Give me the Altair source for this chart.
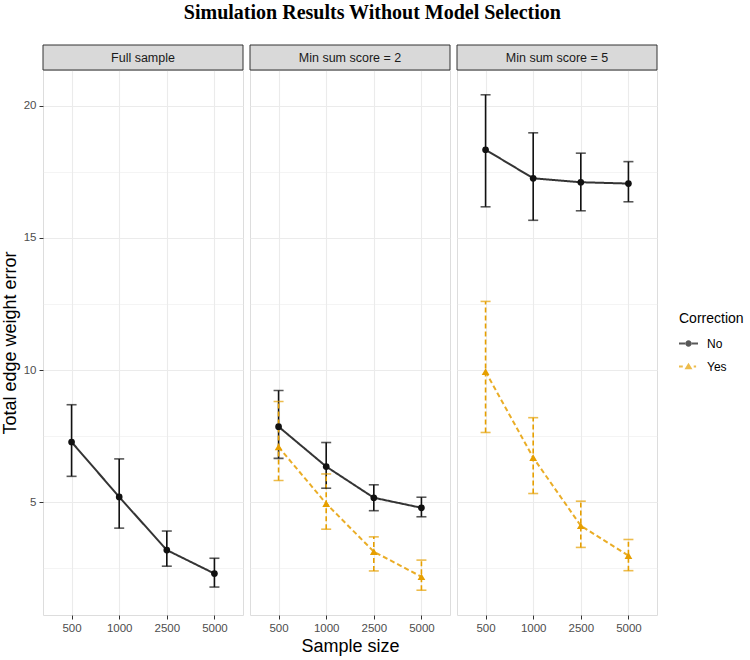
import altair as alt
import pandas as pd

panels = ["Full sample", "Min sum score = 2", "Min sum score = 5"]
sizes = ["500", "1000", "2500", "5000"]
corrections = ["No", "Yes"]

fs_no_mean = [7.28, 5.20, 3.19, 2.30]
fs_no_lo = [5.98, 4.02, 2.58, 1.79]
fs_no_hi = [8.69, 6.64, 3.91, 2.88]

m2_no_mean = [7.86, 6.35, 5.17, 4.79]
m2_no_lo = [6.66, 5.53, 4.68, 4.45]
m2_no_hi = [9.23, 7.26, 5.66, 5.19]
m2_yes_mean = [7.09, 4.95, 3.13, 2.18]
m2_yes_lo = [5.82, 3.98, 2.40, 1.67]
m2_yes_hi = [8.81, 6.07, 3.69, 2.81]

m5_no_mean = [18.34, 17.26, 17.11, 17.06]
m5_no_lo = [16.18, 15.67, 16.03, 16.37]
m5_no_hi = [20.42, 18.98, 18.21, 17.89]
m5_yes_mean = [9.94, 6.69, 4.11, 2.98]
m5_yes_lo = [7.64, 5.33, 3.29, 2.41]
m5_yes_hi = [12.60, 8.20, 5.04, 3.59]

series = [
    (panels[0], "No", fs_no_mean, fs_no_lo, fs_no_hi),
    (panels[1], "No", m2_no_mean, m2_no_lo, m2_no_hi),
    (panels[1], "Yes", m2_yes_mean, m2_yes_lo, m2_yes_hi),
    (panels[2], "No", m5_no_mean, m5_no_lo, m5_no_hi),
    (panels[2], "Yes", m5_yes_mean, m5_yes_lo, m5_yes_hi),
]
rows = []
for panel, corr, mean, lo, hi in series:
    for n, m, l, h in zip(sizes, mean, lo, hi):
        rows.append({"panel": panel, "correction": corr, "n": n, "mean": m, "lo": l, "hi": h})
df = pd.DataFrame(rows)

ymin, ymax = df["lo"].min(), df["hi"].max()
pad = (ymax - ymin) * 0.05
ydomain = [ymin - pad, ymax + pad]

W, H, STRIP = 200, 545, 25
GRID = "#EBEBEB"
DARK = "#333333"
FONT = "Liberation Sans"

# legend glyphs: line segment + marker, all filled areas (unit = half symbol width)
no_path = ("M-1,-0.1H-0.3V0.1H-1Z M0.3,-0.1H1V0.1H0.3Z "
           "M-0.33,0A0.33,0.33 0 1,0 0.33,0A0.33,0.33 0 1,0 -0.33,0Z")
yes_path = ("M-1,-0.1H-0.6V0.1H-1Z M0.55,-0.1H0.8V0.1H0.55Z "
            "M0,-0.4L0.42,0.3L-0.42,0.3Z")


def legend_obj():
    return alt.Legend(
        title="Correction", orient="none", legendX=636, legendY=242,
        titleFont=FONT, titleFontSize=14, titleFontWeight="normal", titleColor="#000000",
        labelFont=FONT, labelFontSize=12, labelColor="#000000", labelOffset=9,
        symbolSize=361, rowPadding=7, titlePadding=8, symbolStrokeWidth=0,
    )


color = alt.Color("correction:N", scale=alt.Scale(domain=corrections, range=["#111111", "#E69F00"]),
                  legend=legend_obj())
dash = alt.StrokeDash("correction:N", scale=alt.Scale(domain=corrections, range=[[1, 0], [5, 3]]), legend=None)
legend_shape = alt.Shape("correction:N", scale=alt.Scale(domain=corrections, range=[no_path, yes_path]),
                         legend=legend_obj())

yscale = alt.Scale(domain=ydomain, nice=False, zero=False)
xscale = alt.Scale(type="point", domain=sizes, padding=0.6)

minor_test = "datum.value % 5 === 0"
marker = {"No": "circle", "Yes": "triangle-up"}


def make_panel(i):
    name = panels[i]
    d = df[df["panel"] == name]
    first = i == 0
    yaxis = alt.Axis(
        values=[2.5, 5, 7.5, 10, 12.5, 15, 17.5, 20],
        grid=True, gridColor=GRID,
        gridWidth={"condition": {"test": minor_test, "value": 1.1}, "value": 0.55},
        labels=first, ticks=first, domain=False,
        labelExpr="datum.value % 5 === 0 ? datum.label : ''",
        tickOpacity={"condition": {"test": minor_test, "value": 1}, "value": 0},
        tickColor=DARK, tickSize=4, tickWidth=1,
        labelColor="#4D4D4D", labelFontSize=11.5, labelFont=FONT, labelPadding=3,
        title="Total edge weight error" if first else None,
        titleFont=FONT, titleFontSize=18, titleFontWeight="normal", titleColor="#000000",
        titlePadding=4,
    )
    xaxis = alt.Axis(
        grid=True, gridColor=GRID, gridWidth=1.1, domain=False, labelAngle=0,
        tickColor=DARK, tickSize=4, tickWidth=1,
        labelColor="#4D4D4D", labelFontSize=11.5, labelFont=FONT, labelPadding=3,
        title="Sample size" if i == 1 else None,
        titleFont=FONT, titleFontSize=18, titleFontWeight="normal", titleColor="#000000",
        titlePadding=4,
    )
    x = alt.X("n:O", scale=xscale, axis=xaxis, sort=sizes)
    base = alt.Chart(d)
    layers = [
        base.mark_rule(strokeWidth=1.6).encode(
            x=x, y=alt.Y("lo:Q", scale=yscale, axis=yaxis), y2="hi:Q", color=color, strokeDash=dash),
        base.mark_tick(size=10, thickness=1.6, orient="horizontal").encode(
            x=x, y=alt.Y("lo:Q", scale=yscale, axis=yaxis), color=color),
        base.mark_tick(size=10, thickness=1.6, orient="horizontal").encode(
            x=x, y=alt.Y("hi:Q", scale=yscale, axis=yaxis), color=color),
        base.mark_line(strokeWidth=2, opacity=0.85).encode(
            x=x, y=alt.Y("mean:Q", scale=yscale, axis=yaxis), color=color, strokeDash=dash),
    ]
    for corr in corrections:
        dd = d[d["correction"] == corr]
        if len(dd) == 0:
            continue
        layers.append(alt.Chart(dd).mark_point(filled=True, size=45 if corr == "No" else 60,
                                               shape=marker[corr], opacity=1).encode(
            x=x, y=alt.Y("mean:Q", scale=yscale, axis=yaxis), color=color))
    if i == 2:
        layers.append(base.transform_filter("false").mark_point(filled=True, opacity=1).encode(
            x=x, y=alt.Y("mean:Q", scale=yscale, axis=yaxis), color=color, shape=legend_shape))
    strip_data = alt.Data(values=[{"panel": name}])
    layers.append(alt.Chart(strip_data).mark_rect(fill="#D9D9D9", stroke=DARK, strokeWidth=1).encode(
        x=alt.value(0), x2=alt.value(W), y=alt.value(-STRIP), y2=alt.value(0)))
    layers.append(alt.Chart(strip_data).mark_text(font=FONT, fontSize=12.5, color="#1A1A1A").encode(
        text="panel:N", x=alt.value(W / 2), y=alt.value(-STRIP / 2)))
    return alt.layer(*layers).properties(width=W, height=H)


chart = alt.hconcat(*[make_panel(i) for i in range(3)], spacing=5).resolve_scale(
    color="shared", strokeDash="shared", shape="shared").resolve_legend(
    color="shared", shape="shared").properties(
    title=alt.TitleParams("Simulation Results Without Model Selection", font="Liberation Serif",
                          fontSize=20, fontWeight="bold", color="#000000", anchor="middle", offset=21),
    padding={"left": 0, "top": 3, "right": 5, "bottom": 2},
).configure_view(stroke=DARK, strokeWidth=1).configure(background="white")

chart.save("out.html", embed_options={"renderer": "svg", "actions": False})
